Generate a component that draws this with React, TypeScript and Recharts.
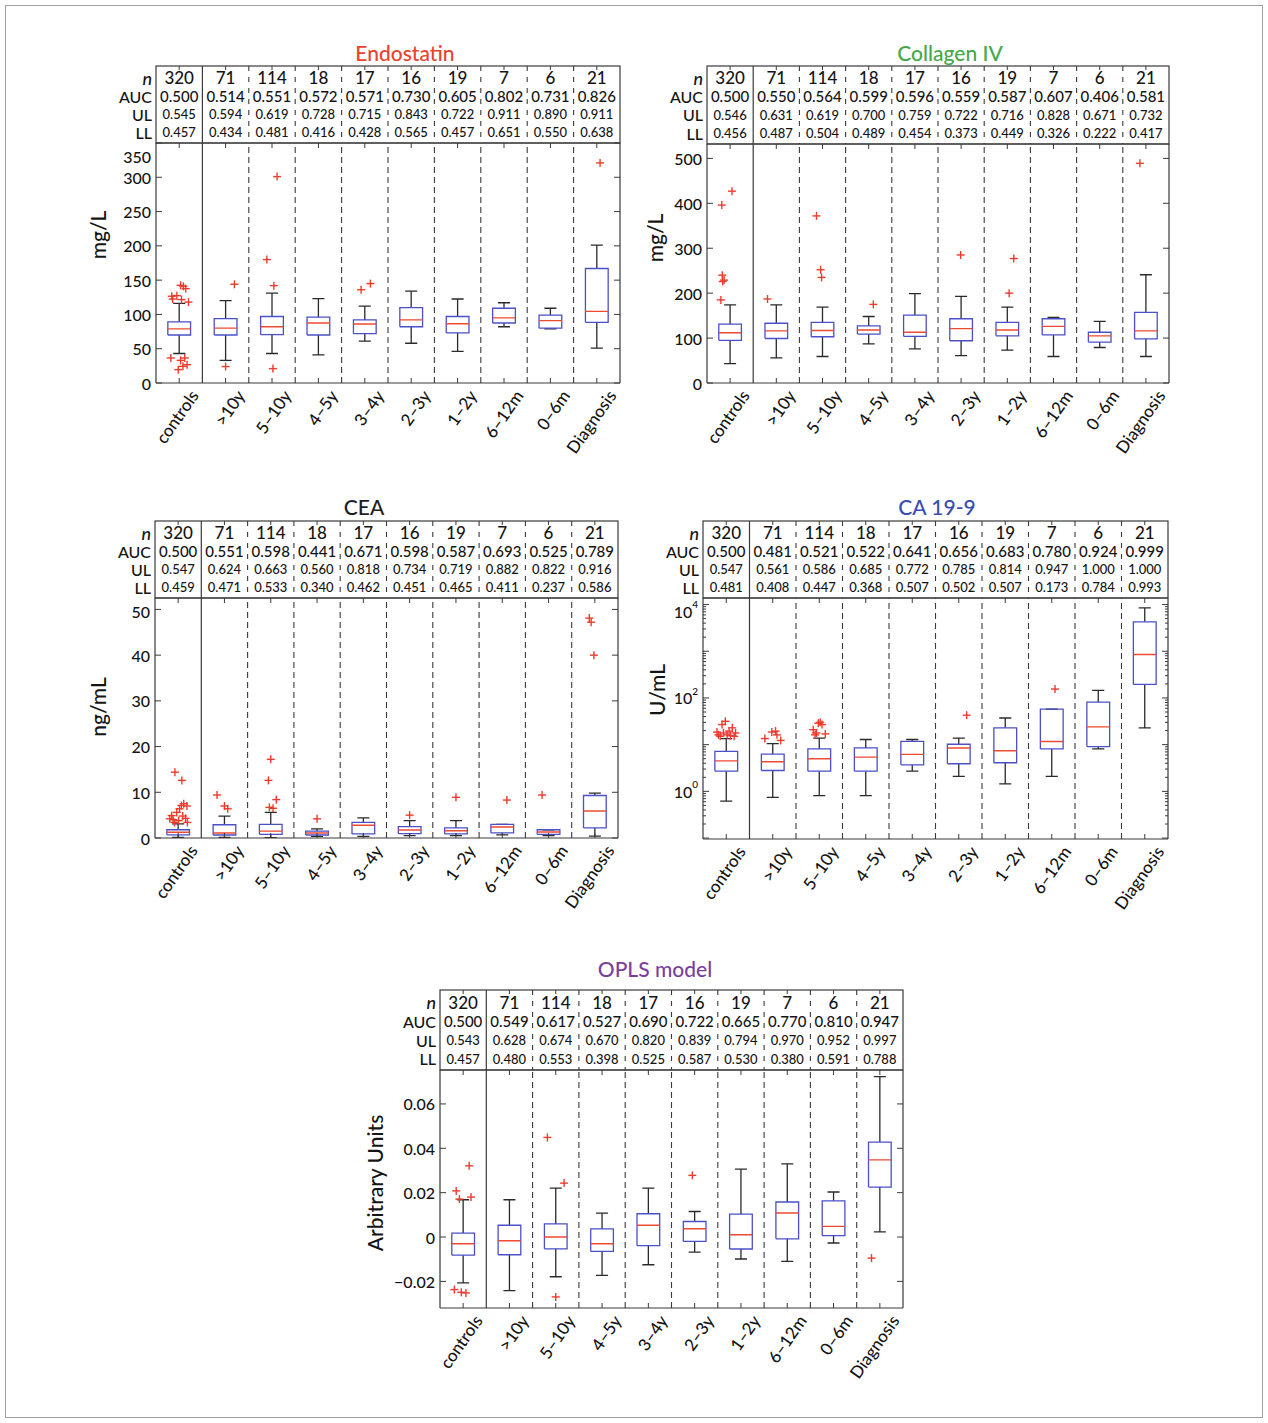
import React from 'react';
import { ComposedChart, Line, Scatter, XAxis, YAxis, ReferenceLine } from 'recharts';

const FONT = 'Lato, "Noto Sans", "DejaVu Sans", sans-serif';
const WEIGHT = 500;
const INK = '#3a3a3a';
const TEXT = '#141414';
const BOX_BLUE = '#4a50c8';
const MEDIAN_RED = '#ee4a30';
const OUTLIER_RED = '#ee3b2c';
const WHISKER = '#2a2a2a';

const groupLabels = ['controls', '>10y', '5–10y', '4–5y', '3–4y', '2–3y', '1–2y', '6–12m', '0–6m', 'Diagnosis'];
const groupN = [320, 71, 114, 18, 17, 16, 19, 7, 6, 21];

// outlier = [group (1-based), horizontal jitter, value]
type Outlier = [number, number, number];

// ---- Endostatin (mg/L)
const endoAuc = [0.5, 0.514, 0.551, 0.572, 0.571, 0.73, 0.605, 0.802, 0.731, 0.826];
const endoUl = [0.545, 0.594, 0.619, 0.728, 0.715, 0.843, 0.722, 0.911, 0.89, 0.911];
const endoLl = [0.457, 0.434, 0.481, 0.416, 0.428, 0.565, 0.457, 0.651, 0.55, 0.638];
const endoLow = [43, 33, 43, 41, 61, 58, 46, 82, 79, 51];
const endoQ1 = [70, 70, 70.5, 70, 72, 82, 73, 87.5, 80, 88.5];
const endoMed = [79, 80, 82, 87.5, 86, 92, 86.5, 95, 91, 104.5];
const endoQ3 = [89, 94, 97, 96, 92, 110, 97, 109, 99, 167];
const endoHigh = [116, 120, 131, 123, 112, 134, 122.5, 117, 109, 201];
const endoOut: Outlier[] = [
  [1, -0.16, 126.5], [1, -0.14, 122.5], [1, 0.03, 142.5], [1, 0.09, 141], [1, 0.14, 137.6],
  [1, 0.05, 121.6], [1, 0.2, 118], [1, -0.05, 127.4], [1, -0.18, 36.5], [1, 0.03, 33],
  [1, 0.12, 36.5], [1, -0.02, 19.5], [1, 0.17, 26.7], [1, 0.08, 24.3],
  [2, 0, 24], [2, 0.19, 144],
  [3, -0.11, 180], [3, 0.04, 142], [3, 0.11, 301], [3, 0.02, 21],
  [5, -0.08, 136], [5, 0.12, 145],
  [10, 0.07, 321],
];

// ---- Collagen IV (mg/L)
const collAuc = [0.5, 0.55, 0.564, 0.599, 0.596, 0.559, 0.587, 0.607, 0.406, 0.581];
const collUl = [0.546, 0.631, 0.619, 0.7, 0.759, 0.722, 0.716, 0.828, 0.671, 0.732];
const collLl = [0.456, 0.487, 0.504, 0.489, 0.454, 0.373, 0.449, 0.326, 0.222, 0.417];
const collLow = [43, 56, 59, 87, 76, 61, 73, 59, 79, 59];
const collQ1 = [95, 99, 103, 109, 104, 94, 105, 107, 91, 98];
const collMed = [112, 116, 117, 118, 113, 121, 118, 126, 105, 116];
const collQ3 = [131, 133, 135, 127, 151, 143, 135, 143, 113, 157];
const collHigh = [174, 174, 169, 148, 199, 193, 169, 146, 137, 241];
const collOut: Outlier[] = [
  [1, -0.18, 396], [1, 0.04, 427], [1, -0.17, 240], [1, -0.16, 226], [1, -0.13, 229], [1, -0.2, 185],
  [2, -0.19, 187],
  [3, -0.13, 372], [3, -0.04, 252], [3, -0.02, 235],
  [4, 0.1, 175],
  [6, -0.01, 285],
  [7, 0.04, 200], [7, 0.14, 277],
  [10, -0.13, 489],
];

// ---- CEA (ng/mL)
const ceaAuc = [0.5, 0.551, 0.598, 0.441, 0.671, 0.598, 0.587, 0.693, 0.525, 0.789];
const ceaUl = [0.547, 0.624, 0.663, 0.56, 0.818, 0.734, 0.719, 0.882, 0.822, 0.916];
const ceaLl = [0.459, 0.471, 0.533, 0.34, 0.462, 0.451, 0.465, 0.411, 0.237, 0.586];
const ceaLow = [0.15, 0.15, 0.1, 0.37, 0.37, 0.5, 0.5, 0.7, 0.5, 0.4];
const ceaQ1 = [0.7, 0.66, 0.8, 0.66, 0.9, 0.95, 0.9, 1.1, 0.8, 2.2];
const ceaMed = [1.25, 1.1, 1.5, 1.1, 2.8, 1.75, 1.6, 2.4, 1.3, 5.9];
const ceaQ3 = [1.8, 2.9, 3.0, 1.5, 3.4, 2.5, 2.2, 3.0, 1.8, 9.3];
const ceaHigh = [3.1, 4.8, 5.6, 2.0, 4.4, 3.8, 3.8, 3.0, 1.8, 9.8];
const ceaOut: Outlier[] = [
  [1, -0.07, 14.4], [1, 0.08, 12.6], [1, 0.12, 7.5], [1, 0.07, 7.1], [1, 0.03, 6.4],
  [1, -0.14, 4.9], [1, -0.11, 4.0], [1, 0.16, 4.3], [1, 0.01, 3.8], [1, -0.18, 4.2],
  [1, 0.2, 3.4], [1, -0.03, 5.6], [1, 0.19, 7.0], [1, -0.08, 3.4], [1, 0.1, 4.8],
  [2, -0.16, 9.4], [2, 0, 7.0], [2, 0.07, 6.4],
  [3, 0, 17.2], [3, -0.05, 12.6], [3, 0.12, 8.4], [3, 0.05, 6.5], [3, -0.03, 6.7],
  [4, 0, 4.2],
  [6, 0, 5.0],
  [7, 0, 8.9],
  [8, 0.1, 8.3],
  [9, -0.14, 9.4],
  [10, -0.12, 48.1], [10, -0.08, 47.2], [10, -0.02, 40.0],
];

// ---- CA 19-9 (U/mL, log axis)
const caAuc = [0.5, 0.481, 0.521, 0.522, 0.641, 0.656, 0.683, 0.78, 0.924, 0.999];
const caUl = [0.547, 0.561, 0.586, 0.685, 0.772, 0.785, 0.814, 0.947, 1.0, 1.0];
const caLl = [0.481, 0.408, 0.447, 0.368, 0.507, 0.502, 0.507, 0.173, 0.784, 0.993];
const caLow = [0.62, 0.74, 0.81, 0.81, 2.7, 2.1, 1.45, 2.1, 8.1, 22.9];
const caQ1 = [2.7, 2.8, 2.7, 2.7, 3.7, 3.9, 4.1, 8.1, 9.1, 195];
const caMed = [4.5, 4.3, 5.0, 5.4, 6.2, 8.5, 7.4, 11.7, 24, 851];
const caQ3 = [7.2, 6.3, 8.1, 8.5, 11.7, 10.2, 22.9, 57.5, 81.3, 4270];
const caHigh = [13.5, 10.5, 13.8, 12.9, 12.9, 13.8, 37.2, 57.5, 145, 8510];
const caOut: Outlier[] = [
  [1, -0.17, 16.2], [1, -0.02, 31.6], [1, 0.02, 16.2], [1, 0.13, 22.9], [1, -0.09, 26.9],
  [1, 0.17, 15.1], [1, 0.06, 19.5], [1, -0.13, 15.1], [1, 0.2, 17.8], [1, -0.06, 17.8],
  [1, 0.09, 15.5], [1, -0.2, 18.6],
  [2, -0.17, 13.5], [2, -0.02, 18.6], [2, 0.09, 16.2], [2, 0.17, 12.3], [2, 0.06, 19.5],
  [3, -0.13, 20.9], [3, -0.02, 28.8], [3, 0.06, 26.9], [3, -0.06, 17.8], [3, 0.13, 17.0],
  [3, -0.09, 16.2], [3, 0.02, 30.2],
  [6, 0.17, 42.7],
  [8, 0.07, 155],
];

// ---- OPLS model (arbitrary units)
const oplsAuc = [0.5, 0.549, 0.617, 0.527, 0.69, 0.722, 0.665, 0.77, 0.81, 0.947];
const oplsUl = [0.543, 0.628, 0.674, 0.67, 0.82, 0.839, 0.794, 0.97, 0.952, 0.997];
const oplsLl = [0.457, 0.48, 0.553, 0.398, 0.525, 0.587, 0.53, 0.38, 0.591, 0.788];
const oplsLow = [-0.0207, -0.0242, -0.0179, -0.0173, -0.0125, -0.0068, -0.0099, -0.011, -0.0027, 0.0023];
const oplsQ1 = [-0.0082, -0.008, -0.0053, -0.0065, -0.0039, -0.002, -0.0054, -0.0008, 0.0006, 0.0225];
const oplsMed = [-0.003, -0.0017, 0, -0.003, 0.0053, 0.0037, 0.001, 0.0108, 0.0048, 0.0348];
const oplsQ3 = [0.0018, 0.0053, 0.0059, 0.0037, 0.0105, 0.007, 0.0103, 0.0158, 0.0163, 0.0428];
const oplsHigh = [0.0168, 0.0168, 0.022, 0.0108, 0.022, 0.0115, 0.0306, 0.033, 0.0203, 0.0723];
const oplsOut: Outlier[] = [
  [1, -0.15, 0.0208], [1, -0.08, 0.0171], [1, 0.13, 0.0321], [1, 0.17, 0.018],
  [1, -0.19, -0.0237], [1, -0.04, -0.0249], [1, 0.06, -0.0252],
  [3, -0.18, 0.0449], [3, 0.18, 0.0243], [3, 0, -0.027],
  [6, -0.05, 0.0278],
  [10, -0.18, -0.0095],
];

// log-axis ticks for CA 19-9: decades plus 2..9 minors
const caTicks: number[] = [];
for (let d = -1; d <= 4; d++) {
  for (let k = 1; k <= 9; k++) {
    const v = d + Math.log10(k);
    if (v <= 4.14) caTicks.push(v);
  }
}

interface PanelSpec {
  title: string;
  titleColor: string;
  titlePos: [number, number];
  yLabel: string;
  yLabelPos: [number, number];
  left: number;
  right: number;
  top: number;
  bottom: number;
  tableTop: number;
  domain: [number, number];
  ticks: number[];
  log?: boolean;
  format: (v: number) => React.ReactNode;
  auc: number[];
  ul: number[];
  ll: number[];
  low: number[];
  q1: number[];
  med: number[];
  q3: number[];
  high: number[];
  outliers: Outlier[];
}

const panels: PanelSpec[] = [
  {
    title: 'Endostatin', titleColor: '#e8432d', titlePos: [405, 52],
    yLabel: 'mg/L', yLabelPos: [97, 235],
    left: 156, right: 620, top: 143, bottom: 383, tableTop: 66,
    domain: [0, 350], ticks: [0, 50, 100, 150, 200, 250, 300, 350],
    format: (v) => String(v),
    auc: endoAuc, ul: endoUl, ll: endoLl,
    low: endoLow, q1: endoQ1, med: endoMed, q3: endoQ3, high: endoHigh, outliers: endoOut,
  },
  {
    title: 'Collagen IV', titleColor: '#45a84b', titlePos: [950, 52],
    yLabel: 'mg/L', yLabelPos: [654, 238],
    left: 707, right: 1169, top: 144, bottom: 383, tableTop: 66,
    domain: [0, 532], ticks: [0, 100, 200, 300, 400, 500],
    format: (v) => String(v),
    auc: collAuc, ul: collUl, ll: collLl,
    low: collLow, q1: collQ1, med: collMed, q3: collQ3, high: collHigh, outliers: collOut,
  },
  {
    title: 'CEA', titleColor: '#1e1e1e', titlePos: [364, 506],
    yLabel: 'ng/mL', yLabelPos: [97, 707],
    left: 155, right: 618, top: 598, bottom: 838, tableTop: 521,
    domain: [0, 52.5], ticks: [0, 10, 20, 30, 40, 50],
    format: (v) => String(v),
    auc: ceaAuc, ul: ceaUl, ll: ceaLl,
    low: ceaLow, q1: ceaQ1, med: ceaMed, q3: ceaQ3, high: ceaHigh, outliers: ceaOut,
  },
  {
    title: 'CA 19-9', titleColor: '#3a4db0', titlePos: [937, 506],
    yLabel: 'U/mL', yLabelPos: [656, 690],
    left: 703, right: 1168, top: 598, bottom: 839, tableTop: 521,
    domain: [-1.02, 4.14], ticks: caTicks, log: true,
    format: (v) => (
      <>
        10<tspan dy={-7} fontSize={10}>{Math.round(v)}</tspan>
      </>
    ),
    auc: caAuc, ul: caUl, ll: caLl,
    low: caLow, q1: caQ1, med: caMed, q3: caQ3, high: caHigh, outliers: caOut,
  },
  {
    title: 'OPLS model', titleColor: '#7a3f9e', titlePos: [655, 968],
    yLabel: 'Arbitrary Units', yLabelPos: [374, 1183],
    left: 440, right: 903, top: 1070, bottom: 1308, tableTop: 990,
    domain: [-0.032, 0.0753], ticks: [-0.02, 0, 0.02, 0.04, 0.06],
    format: (v) => (v === 0 ? '0' : v < 0 ? '\u2212' + Math.abs(v).toFixed(2) : v.toFixed(2)),
    auc: oplsAuc, ul: oplsUl, ll: oplsLl,
    low: oplsLow, q1: oplsQ1, med: oplsMed, q3: oplsQ3, high: oplsHigh, outliers: oplsOut,
  },
];

const BOX_HALF = 0.245;
const CAP_HALF = 0.13;
const Y_W = 60;
const PAD = 4;
const X_H = 100;

type Pt = { x: number; y: number | null };

function buildSeries(p: PanelSpec) {
  const t = (v: number) => (p.log ? Math.log10(v) : v);
  const boxes: Pt[] = [];
  const medians: Pt[] = [];
  const whiskers: Pt[] = [];
  p.q1.forEach((_, i) => {
    const x = i + 1;
    const lo = t(p.low[i]);
    const a = t(p.q1[i]);
    const m = t(p.med[i]);
    const b = t(p.q3[i]);
    const hi = t(p.high[i]);
    boxes.push(
      { x: x - BOX_HALF, y: a }, { x: x + BOX_HALF, y: a }, { x: x + BOX_HALF, y: b },
      { x: x - BOX_HALF, y: b }, { x: x - BOX_HALF, y: a }, { x, y: null },
    );
    medians.push({ x: x - BOX_HALF, y: m }, { x: x + BOX_HALF, y: m }, { x, y: null });
    whiskers.push(
      { x, y: b }, { x, y: hi }, { x, y: null },
      { x: x - CAP_HALF, y: hi }, { x: x + CAP_HALF, y: hi }, { x, y: null },
      { x, y: a }, { x, y: lo }, { x, y: null },
      { x: x - CAP_HALF, y: lo }, { x: x + CAP_HALF, y: lo }, { x, y: null },
    );
  });
  const points = p.outliers.map(([g, dx, v]) => ({ x: g + dx, y: t(v) }));
  return { boxes, medians, whiskers, points };
}

const plusShape = (props: any) => {
  const { cx, cy } = props;
  return (
    <g stroke={OUTLIER_RED} strokeWidth={1.4}>
      <line x1={cx - 4} x2={cx + 4} y1={cy} y2={cy} />
      <line x1={cx} x2={cx} y1={cy - 4} y2={cy + 4} />
    </g>
  );
};

const Panel: React.FC<{ spec: PanelSpec }> = ({ spec }) => {
  const s = buildSeries(spec);
  const plotW = spec.right - spec.left;
  const plotH = spec.bottom - spec.top;
  const width = Y_W + plotW + PAD;
  const height = PAD + plotH + X_H;

  const renderYTick = (props: any) => {
    const { x, y, payload } = props;
    const v: number = payload.value;
    const isMajor = !spec.log || Math.abs(v - Math.round(v)) < 1e-9;
    const labeled = spec.log ? isMajor && Math.round(v) % 2 === 0 && v >= 0 : true;
    const len = isMajor ? 6 : 3;
    // keep the topmost label clear of the table border
    const dy = Math.max(0, 13 - (y - PAD));
    return (
      <g>
        <line x1={x} x2={x + len} y1={y} y2={y} stroke={INK} />
        <line x1={x + plotW - len} x2={x + plotW} y1={y} y2={y} stroke={INK} />
        {labeled && (
          <text x={x - 5} y={y + dy} textAnchor="end" dominantBaseline="central"
            fontSize={16} fontFamily={FONT} fontWeight={WEIGHT} fill={TEXT}>
            {spec.format(v)}
          </text>
        )}
      </g>
    );
  };

  const renderXTick = (props: any) => {
    const { x, y, payload } = props;
    const label = groupLabels[payload.value - 1];
    const ax = x + 15;
    const ay = y + 9;
    return (
      <g>
        <line x1={x} x2={x} y1={y} y2={y - 5} stroke={INK} />
        <line x1={x} x2={x} y1={y - plotH} y2={y - plotH + 5} stroke={INK} />
        <text x={ax} y={ay} transform={`rotate(-55 ${ax} ${ay})`} textAnchor="end"
          dominantBaseline="central" fontSize={17} fontFamily={FONT} fontWeight={WEIGHT} fill={TEXT}>
          {label}
        </text>
      </g>
    );
  };

  return (
    <div style={{ position: 'absolute', left: spec.left - Y_W, top: spec.top - PAD }}>
      <ComposedChart width={width} height={height} margin={{ top: PAD, right: PAD, bottom: 0, left: 0 }}>
        <XAxis type="number" dataKey="x" domain={[0.5, 10.5]} allowDataOverflow
          ticks={[1, 2, 3, 4, 5, 6, 7, 8, 9, 10]} interval={0} height={X_H}
          tickSize={0} tickMargin={0} tickLine={false} axisLine={{ stroke: INK, strokeWidth: 1.2 }}
          tick={renderXTick} />
        <YAxis type="number" dataKey="y" domain={spec.domain} allowDataOverflow
          ticks={spec.ticks} interval={0} width={Y_W}
          tickSize={0} tickMargin={0} tickLine={false} axisLine={{ stroke: INK, strokeWidth: 1.2 }}
          tick={renderYTick} />
        <ReferenceLine x={1.5} stroke={INK} strokeWidth={1.2} ifOverflow="visible" />
        {[2.5, 3.5, 4.5, 5.5, 6.5, 7.5, 8.5, 9.5].map((v) => (
          <ReferenceLine key={v} x={v} stroke={INK} strokeWidth={1.1} strokeDasharray="6 4" ifOverflow="visible" />
        ))}
        <ReferenceLine x={10.5} stroke={INK} strokeWidth={1.2} ifOverflow="visible" />
        <ReferenceLine y={spec.domain[1]} stroke={INK} strokeWidth={1.2} ifOverflow="visible" />
        <Line data={s.whiskers} dataKey="y" type="linear" stroke={WHISKER} strokeWidth={1.3}
          dot={false} activeDot={false} connectNulls={false} isAnimationActive={false} legendType="none" />
        <Line data={s.boxes} dataKey="y" type="linear" stroke={BOX_BLUE} strokeWidth={1.3}
          dot={false} activeDot={false} connectNulls={false} isAnimationActive={false} legendType="none" />
        <Line data={s.medians} dataKey="y" type="linear" stroke={MEDIAN_RED} strokeWidth={1.4}
          dot={false} activeDot={false} connectNulls={false} isAnimationActive={false} legendType="none" />
        <Scatter data={s.points} dataKey="y" shape={plusShape} isAnimationActive={false} legendType="none" />
      </ComposedChart>
    </div>
  );
};

const PanelTable: React.FC<{ spec: PanelSpec }> = ({ spec }) => {
  const { left, right, top, tableTop } = spec;
  const cw = (right - left) / 10;
  const h = top - tableTop;
  const rowY = [0.15, 0.39, 0.625, 0.86].map((f) => tableTop + f * h);
  const cx = (i: number) => left + (i + 0.5) * cw;
  const [tx, ty] = spec.titlePos;
  const [lx, ly] = spec.yLabelPos;
  const rows: { vals: string[]; size: number }[] = [
    { vals: groupN.map(String), size: 17 },
    { vals: spec.auc.map((v) => v.toFixed(3)), size: 15 },
    { vals: spec.ul.map((v) => v.toFixed(3)), size: 13 },
    { vals: spec.ll.map((v) => v.toFixed(3)), size: 13 },
  ];
  return (
    <g fontFamily={FONT} fontWeight={WEIGHT} fill={TEXT}>
      <text x={tx} y={ty} fill={spec.titleColor} fontSize={21} textAnchor="middle" dominantBaseline="central">
        {spec.title}
      </text>
      <text x={lx} y={ly} transform={`rotate(-90 ${lx} ${ly})`} fontSize={21} textAnchor="middle"
        dominantBaseline="central">
        {spec.yLabel}
      </text>
      <rect x={left} y={tableTop} width={right - left} height={h} fill="none" stroke={INK} strokeWidth={1.2} />
      {Array.from({ length: 9 }, (_, k) => (
        <line key={k} x1={left + (k + 1) * cw} x2={left + (k + 1) * cw} y1={tableTop} y2={top}
          stroke={INK} strokeWidth={k === 0 ? 1.2 : 1.1} strokeDasharray={k === 0 ? undefined : '5 6'} />
      ))}
      {groupN.map((_, i) => (
        <line key={i} x1={cx(i)} x2={cx(i)} y1={tableTop} y2={tableTop + 4} stroke={INK} />
      ))}
      <text x={left - 4} y={rowY[0]} textAnchor="end" dominantBaseline="central" fontSize={18} fontStyle="italic">n</text>
      <text x={left - 4} y={rowY[1]} textAnchor="end" dominantBaseline="central" fontSize={16}>AUC</text>
      <text x={left - 4} y={rowY[2]} textAnchor="end" dominantBaseline="central" fontSize={16}>UL</text>
      <text x={left - 4} y={rowY[3]} textAnchor="end" dominantBaseline="central" fontSize={16}>LL</text>
      {rows.map((r, ri) =>
        r.vals.map((v, i) => (
          <text key={`${ri}-${i}`} x={cx(i)} y={rowY[ri]} textAnchor="middle" dominantBaseline="central"
            fontSize={r.size}>
            {v}
          </text>
        )),
      )}
    </g>
  );
};

const App: React.FC = () => (
  <div style={{ position: 'absolute', left: 0, top: 0, width: 1268, height: 1423, background: '#fff' }}>
    {panels.map((p) => (
      <Panel key={p.title} spec={p} />
    ))}
    <svg width={1268} height={1423} style={{ position: 'absolute', left: 0, top: 0, pointerEvents: 'none' }}>
      <rect x={5.5} y={5.5} width={1257} height={1412} fill="none" stroke="#a0a0a0" />
      {panels.map((p) => (
        <PanelTable key={p.title} spec={p} />
      ))}
    </svg>
  </div>
);

export default App;
